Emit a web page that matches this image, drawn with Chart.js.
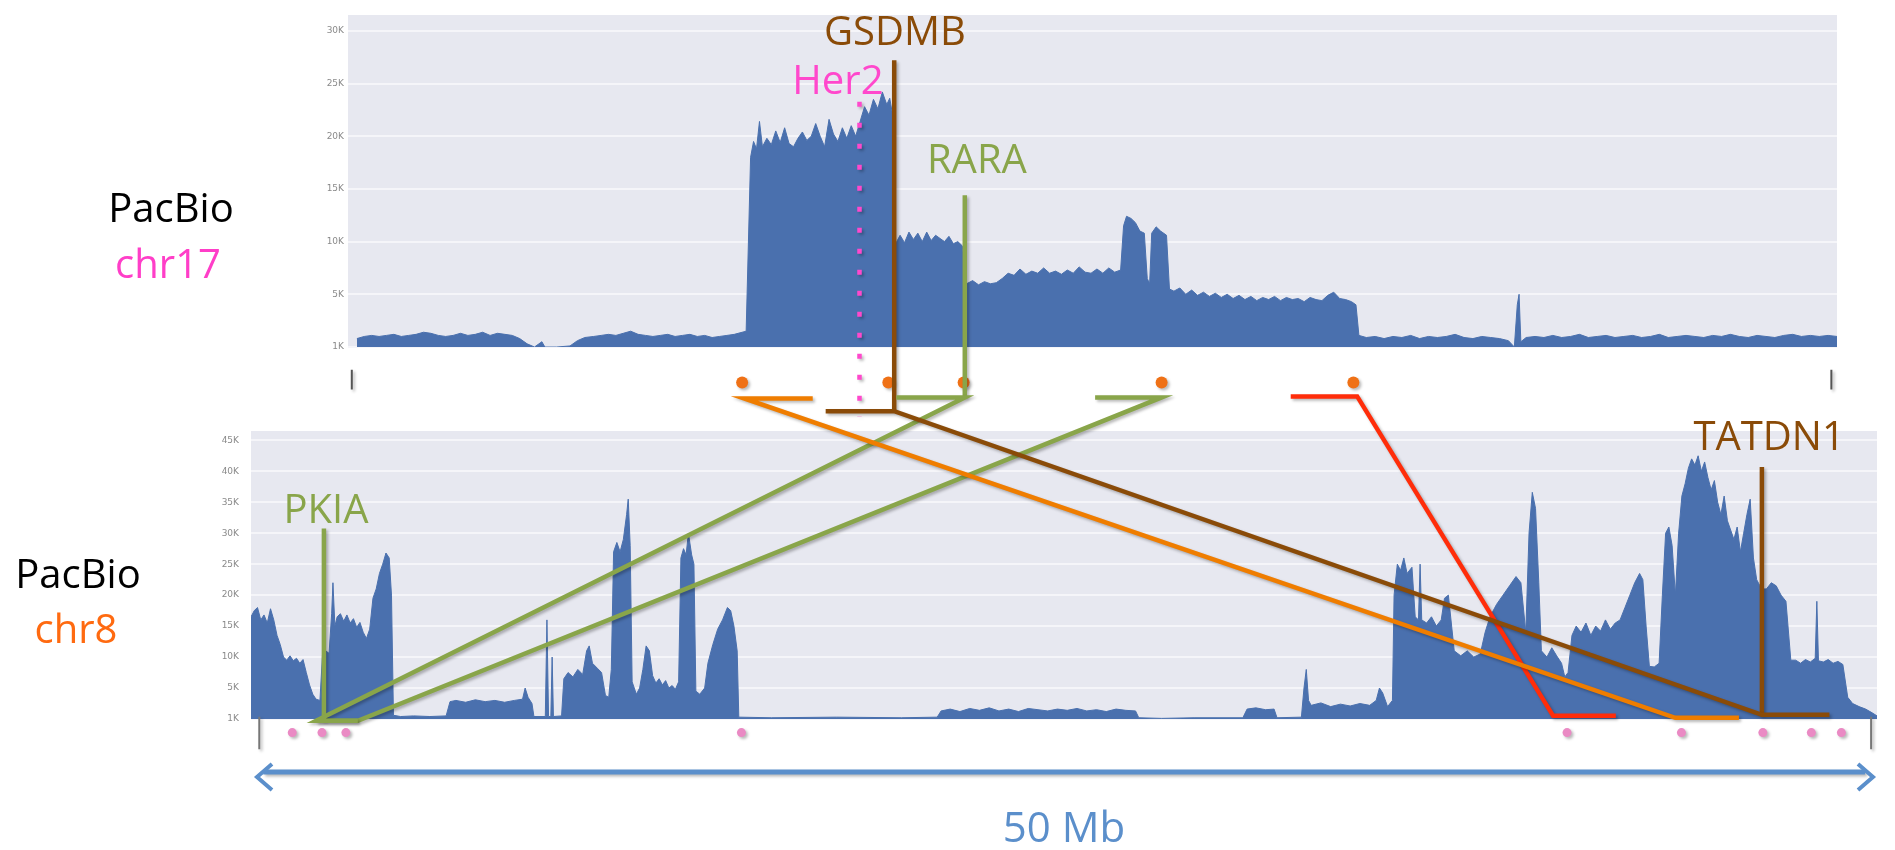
<!DOCTYPE html>
<html>
<head>
<meta charset="utf-8">
<script src="https://cdn.jsdelivr.net/npm/chart.js@4.4.1/dist/chart.umd.min.js"></script>
<style>
  html, body { margin: 0; padding: 0; background: #fff; }
  #wrap { position: relative; width: 1895px; height: 850px; }
  #wrap canvas { position: absolute; left: 0; top: 0; }
</style>
</head>
<body>
<div id="wrap">
  <canvas id="chr17Canv" width="1895" height="850"></canvas>
  <canvas id="chr8Canv" width="1895" height="850"></canvas>
  <canvas id="linkCanv" width="1895" height="850"></canvas>
</div>
<script>
// chr17 coverage (position in Mb of the 50 Mb window, coverage in K)
const chr17Mb = [
  0, 0.25, 0.5, 0.75, 1, 1.25, 1.5, 1.75, 2, 2.25, 2.5, 2.75, 3,
  3.25, 3.5, 3.75, 4, 4.25, 4.5, 4.75, 5, 5.25, 5.5, 5.75, 6, 6.25, 6.35, 6.75, 7.2, 7.45, 7.7,
  8, 8.25, 8.5, 8.75, 9, 9.25, 9.5, 9.75, 10, 10.25, 10.5, 10.75, 11, 11.25, 11.5, 11.75, 12, 12.25, 12.5, 12.75, 13.15,
  13.3, 13.4, 13.5, 13.6, 13.7, 13.85, 14, 14.15, 14.3, 14.45, 14.6, 14.75, 14.9, 15.05, 15.2, 15.35,
  15.5, 15.65, 15.8, 15.95, 16.1, 16.25, 16.4, 16.55, 16.7, 16.85, 17, 17.15, 17.3, 17.45, 17.6, 17.75, 17.9, 18, 18.1,
  18.2, 18.35, 18.5, 18.65, 18.8, 18.95, 19.1, 19.25, 19.4, 19.55, 19.7, 19.85, 20, 20.15, 20.3, 20.45,
  20.6, 20.8, 21, 21.2, 21.4, 21.6, 21.8, 22, 22.2, 22.4, 22.6, 22.8, 23, 23.2, 23.4, 23.6, 23.8, 24, 24.2, 24.4, 24.6, 24.8, 25, 25.2, 25.4, 25.6, 25.8,
  25.9, 26, 26.15, 26.3, 26.45, 26.6, 26.7, 26.78, 26.85, 27, 27.15, 27.35, 27.45,
  27.6, 27.8, 28, 28.2, 28.4, 28.6, 28.8, 29, 29.2, 29.4, 29.6, 29.8, 30, 30.2, 30.4, 30.6,
  30.8, 31, 31.2, 31.4, 31.6, 31.8, 32, 32.2, 32.4, 32.6, 32.8, 33, 33.2, 33.4, 33.6, 33.75,
  33.85, 34.1, 34.4, 34.7, 35, 35.3, 35.6, 35.9, 36.2, 36.5, 36.8, 37.1, 37.4, 37.7, 38, 38.3, 38.6, 38.9,
  39.1, 39.2, 39.26, 39.32, 39.5, 39.8, 40.1, 40.4, 40.7, 41, 41.3, 41.6, 41.9, 42.2, 42.5, 42.8,
  43.1, 43.4, 43.7, 44, 44.3, 44.6, 44.9, 45.2, 45.5, 45.8, 46.1, 46.4, 46.7, 47, 47.3, 47.6, 47.9, 48.2, 48.5, 48.8, 49.1, 49.4, 49.7, 50
];
const chr17Cov = [
  0.8, 1.0, 1.1, 1.0, 1.1, 1.2, 1.0, 1.1, 1.2, 1.4, 1.3, 1.1, 1.0,
  1.1, 1.3, 1.1, 1.2, 1.4, 1.1, 1.3, 1.2, 1.1, 0.8, 0.3, 0, 0.5, 0, 0, 0.1, 0.6, 0.9,
  1.0, 1.1, 1.2, 1.1, 1.3, 1.5, 1.2, 1.1, 1.0, 1.1, 1.2, 1.0, 1.1, 1.2, 1.0, 1.1, 0.9, 1.0, 1.1, 1.2, 1.5,
  18.0, 19.5, 18.8, 21.4, 19.0, 19.8, 19.2, 20.5, 19.4, 20.8, 19.3, 19.0, 19.8, 20.4, 19.6, 20.0,
  21.2, 20.0, 19.0, 21.6, 20.2, 19.5, 20.8, 19.8, 21.0, 20.0, 21.4, 22.8, 22.0, 23.5, 22.6, 24.2, 23.0, 23.6, 22.0,
  9.8, 10.6, 9.9, 10.9, 10.2, 10.8, 10.0, 10.9, 10.1, 10.6, 10.3, 10.0, 10.5, 9.8, 10.0, 9.6,
  6.0, 6.3, 5.9, 6.2, 6.0, 6.1, 6.5, 7.0, 6.8, 7.4, 6.9, 7.2, 7.0, 7.5, 7.0, 7.2, 6.9, 7.3, 7.0, 7.6, 7.1, 7.0, 7.4, 7.0, 7.5, 7.1, 7.3,
  11.5, 12.4, 12.2, 11.8, 11.0, 10.8, 6.5, 6.0, 10.8, 11.4, 11.0, 10.6, 5.5,
  5.3, 5.6, 5.0, 5.4, 4.9, 5.2, 4.8, 5.1, 4.7, 5.0, 4.6, 4.9, 4.5, 4.8, 4.4, 4.7,
  4.5, 4.8, 4.4, 4.7, 4.5, 4.6, 4.3, 4.7, 4.5, 4.4, 4.9, 5.2, 4.6, 4.5, 4.3, 4.0,
  1.1, 0.9, 1.0, 0.8, 1.0, 0.9, 1.1, 0.8, 1.0, 0.9, 1.0, 1.2, 0.9, 0.8, 1.0, 0.9, 0.8, 0.6,
  0, 4.0, 5.0, 0.5, 0.9, 1.0, 0.9, 1.1, 0.9, 1.0, 1.2, 0.9, 1.0, 1.1, 0.9, 1.0,
  1.1, 0.9, 1.0, 1.2, 0.9, 1.0, 1.1, 1.0, 0.9, 1.1, 1.0, 1.2, 1.0, 0.9, 1.1, 1.0, 0.9, 1.1, 1.2, 1.0, 1.1, 1.0, 1.1, 1.0
];

// chr8 coverage
const chr8Mb = [
  0, 0.1, 0.2, 0.3, 0.4, 0.5, 0.6, 0.7, 0.8, 0.9, 1, 1.1, 1.2, 1.3, 1.4, 1.5, 1.6, 1.7, 1.8, 1.9, 2, 2.12,
  2.2, 2.3, 2.4, 2.48, 2.52, 2.58, 2.65, 2.75, 2.85, 2.95, 3.05, 3.15, 3.25, 3.35, 3.45, 3.55, 3.65, 3.75, 3.85, 3.95, 4.05, 4.15, 4.25, 4.32, 4.38,
  4.6, 5, 5.5, 6, 6.12, 6.3, 6.6, 6.9, 7.2, 7.5, 7.8, 8.1, 8.35, 8.43, 8.52, 8.64, 8.7, 9.05, 9.1, 9.15, 9.22, 9.26, 9.3, 9.55,
  9.62, 9.75, 9.9, 10.05, 10.2, 10.32, 10.4, 10.5, 10.65, 10.78, 10.9, 11, 11.08, 11.15, 11.25, 11.35, 11.45, 11.55, 11.6, 11.66, 11.72,
  11.85, 11.95, 12.05, 12.15, 12.25, 12.35, 12.45, 12.55, 12.65, 12.75, 12.85, 12.95, 13.05, 13.15, 13.22, 13.3, 13.38, 13.45, 13.55, 13.62, 13.68,
  13.8, 13.95, 14.05, 14.2, 14.35, 14.5, 14.65, 14.75, 14.85, 14.95, 15, 16, 18, 20, 21.1,
  21.22, 21.5, 21.8, 22.1, 22.4, 22.7, 23, 23.3, 23.6, 23.9, 24.2, 24.5, 24.8, 25.1, 25.4, 25.7, 26, 26.3, 26.6, 26.9, 27.2, 27.3,
  28, 29, 30.5, 30.63, 30.9, 31.2, 31.46, 31.55, 32.3, 32.38, 32.45, 32.52, 32.6, 32.9, 33.2, 33.5, 33.8, 34.1, 34.4, 34.6, 34.7, 34.8, 34.95, 35.1,
  35.15, 35.25, 35.35, 35.45, 35.55, 35.7, 35.8, 35.9, 35.95, 36, 36.15, 36.3, 36.45, 36.6, 36.7, 36.82, 36.92, 37, 37.2, 37.4, 37.6, 37.8,
  37.95, 38.1, 38.3, 38.5, 38.7, 38.9, 39.05, 39.2, 39.3, 39.4, 39.5, 39.6, 39.68, 39.85, 40, 40.15, 40.3, 40.4, 40.5,
  40.62, 40.75, 40.9, 41.05, 41.2, 41.35, 41.5, 41.65, 41.8, 41.95, 42.1, 42.25, 42.4, 42.55, 42.7, 42.8, 42.9, 43, 43.15, 43.3,
  43.4, 43.5, 43.6, 43.7, 43.8, 43.9, 44, 44.1, 44.2, 44.3, 44.4, 44.5, 44.6, 44.7, 44.8, 44.9, 45, 45.1, 45.2, 45.3,
  45.4, 45.5, 45.6, 45.7, 45.8, 45.9, 46, 46.1, 46.2, 46.3, 46.45, 46.6, 46.75, 46.9, 47.05, 47.2, 47.35,
  47.5, 47.65, 47.8, 47.95, 48.1, 48.15, 48.2, 48.35, 48.5, 48.65, 48.8, 48.95, 49.1, 49.25, 49.45, 49.65, 49.85, 50
];
const chr8Cov = [
  16.5, 17.5, 18.0, 16.0, 16.8, 15.5, 17.8, 16.0, 13.5, 12.0, 10.0, 9.5, 10.2, 9.4, 9.8, 9.0, 9.6, 7.5, 5.5, 4.0, 3.2, 3.0,
  10.5, 11.0, 10.6, 17.0, 22.0, 15.0, 16.5, 17.0, 15.8, 16.8, 15.5, 16.2, 14.8, 15.6, 14.0, 13.0, 14.5, 19.5, 21.0, 23.5, 25.0, 26.8, 26.0, 20.0, 0.6,
  0.4, 0.5, 0.4, 0.5, 2.8, 3.0, 2.7, 3.1, 2.8, 3.0, 2.7, 3.0, 3.2, 5.0, 3.5, 2.5, 0.4, 0.4, 16.0, 0.4, 0.4, 10.0, 0.4, 0.5,
  6.5, 7.5, 6.8, 8.0, 7.2, 11.0, 11.8, 9.0, 8.2, 7.5, 3.8, 3.5, 8.0, 27.0, 28.5, 27.0, 29.0, 33.0, 35.5, 28.0, 6.0,
  4.0, 5.0, 8.0, 11.8, 11.0, 7.0, 5.8, 6.5, 5.5, 6.2, 5.0, 5.4, 4.8, 6.0, 26.0, 27.5, 26.5, 30.0, 26.5, 25.0, 4.5,
  4.0, 5.0, 9.0, 12.0, 14.5, 16.0, 18.0, 17.5, 15.0, 11.0, 0.3, 0.2, 0.3, 0.2, 0.3,
  1.3, 1.6, 1.2, 1.7, 1.4, 1.8, 1.3, 1.6, 1.2, 1.7, 1.5, 1.3, 1.6, 1.4, 1.7, 1.3, 1.5, 1.2, 1.6, 1.4, 1.3, 0.2,
  0.1, 0.2, 0.2, 1.6, 1.8, 1.5, 1.6, 0.2, 0.3, 5.0, 8.0, 3.0, 2.2, 2.6, 2.0, 2.4, 2.1, 2.5, 2.2, 3.0, 5.0, 4.2, 2.0, 3.0,
  20.0, 25.0, 24.0, 26.0, 23.5, 24.5, 16.5, 16.0, 25.0, 16.0, 15.5, 16.5, 15.0, 16.0, 19.5, 20.0, 15.0, 11.0, 10.2, 11.0, 10.0, 10.5,
  14.0, 16.5, 18.5, 20.0, 21.5, 23.0, 22.0, 14.0, 30.0, 36.6, 34.0, 22.0, 11.0, 10.0, 11.5, 10.2, 9.0, 6.8, 7.5,
  13.5, 15.0, 14.0, 15.5, 13.5, 15.0, 14.2, 16.0, 14.5, 15.5, 16.0, 18.0, 20.0, 22.0, 23.5, 22.5, 15.0, 8.5, 8.4, 9.0,
  20.0, 30.0, 31.0, 28.0, 20.0, 30.0, 36.0, 38.0, 40.5, 42.0, 41.0, 42.5, 40.0, 41.5, 39.0, 37.0, 38.5, 35.0, 33.0, 36.0,
  32.0, 30.5, 29.0, 31.0, 27.0, 30.0, 33.0, 35.5, 26.0, 22.5, 21.0, 21.0, 22.0, 21.5, 20.0, 19.0, 9.5,
  9.5, 9.0, 9.6, 9.2, 9.8, 19.0, 9.4, 9.2, 9.6, 9.0, 9.3, 8.8, 3.5, 2.5, 2.0, 1.6, 1.0, 0.5
];

const chr17Ticks = [0, 5, 10, 15, 20, 25, 30];
const chr8Ticks = [0, 5, 10, 15, 20, 25, 30, 35, 40, 45];

// breakpoints (orange dots under chr17, pink dots under chr8)
const break17 = [12.97, 17.94, 20.5, 27.23, 33.75];
const break8 = [1.14, 2.06, 2.8, 15.04, 40.59, 44.13, 46.65, 48.15, 49.08];

// links: chr17 segment [free end, joined end] -> chr8 segment [joined end, free end]
const link17 = [[15.37, 13.04], [15.81, 18.14], [18.21, 20.54], [24.97, 27.23], [31.62, 33.88]];
const link8 = [[43.94, 45.91], [46.62, 48.71], [1.88, 3.17], [3.17, 1.88], [40.16, 42.1]];

// genes: name, position (Mb), top of marker (coverage K)
const gene17Names = ['Her2', 'GSDMB', 'RARA'];
const gene17Mb = [16.96, 18.14, 20.54];
const gene17Top = [23.7, 27.7, 14.7];
const gene8Names = ['PKIA', 'TATDN1'];
const gene8Mb = [2.12, 46.62];
const gene8Top = [30.5, 40.6];

// styles
const blue = '#4a70ae';
const linkColors = ['#ef7d00', '#8a4b08', '#89a54a', '#89a54a', '#ff2d0a'];
const linkRow17 = [51, 64, 50, 50, 49];
const linkRow8 = [3, 0, 6, 6, 1];
const gene17Colors = ['#ff48cc', '#8a4b08', '#89a54a'];
const gene17End = [70, 64, 50];
const gene17Dx = [-21, 1, 12];
const gene17Dy = [3, 10, 19];
const gene8Colors = ['#89a54a', '#8a4b08'];
const gene8End = [6, 0];
const gene8Dx = [6, 2];
const gene8Dy = [7, 18];
const labelFont = '40px "Open Sans"';

const plotBg = {
  id: 'plotBg',
  beforeDraw(chart, args, opts) {
    const a = chart.chartArea;
    const ctx = chart.ctx;
    ctx.save();
    ctx.fillStyle = opts.color;
    ctx.fillRect(a.left, a.top, a.right - a.left, a.bottom - a.top);
    ctx.restore();
  }
};

function coverageChart(canv, xs, ys, xMin, yMax, yTicks, pad, axisW, labelPad) {
  return new Chart(canv, {
    type: 'line',
    data: {
      datasets: [{
        data: xs.map((x, i) => ({x: x, y: ys[i]})),
        borderColor: blue,
        backgroundColor: blue,
        borderWidth: 1,
        fill: 'origin',
        pointRadius: 0,
        tension: 0
      }]
    },
    options: {
      responsive: false,
      animation: false,
      events: [],
      layout: { padding: pad },
      plugins: {
        legend: { display: false },
        tooltip: { enabled: false },
        plotBg: { color: '#e7e8f0' }
      },
      scales: {
        x: { type: 'linear', min: xMin, max: 50, display: false },
        y: {
          type: 'linear',
          min: 0,
          max: yMax,
          afterBuildTicks: s => { s.ticks = yTicks.map(v => ({value: v})); },
          afterFit: s => { s.width = axisW; },
          border: { display: false },
          grid: { color: '#f5f5f9', lineWidth: 2, drawTicks: false },
          ticks: {
            color: '#8a8a8a',
            padding: labelPad,
            font: { size: 9, family: 'DejaVu Sans' },
            callback: v => (v === 0 ? 1 : v) + 'K'
          }
        }
      }
    },
    plugins: [plotBg]
  });
}

const topChart = coverageChart(document.getElementById('chr17Canv'), chr17Mb, chr17Cov,
  -0.3, 31.5, chr17Ticks, {left: 308, right: 58, top: 15, bottom: 503}, 40, 4);
const botChart = coverageChart(document.getElementById('chr8Canv'), chr8Mb, chr8Cov,
  0, 46.5, chr8Ticks, {left: 201, right: 18, top: 431, bottom: 131}, 50, 12);

const tx = v => topChart.scales.x.getPixelForValue(v);
const ty = v => topChart.scales.y.getPixelForValue(v);
const bx = v => botChart.scales.x.getPixelForValue(v);
const by = v => botChart.scales.y.getPixelForValue(v);
const topBase = topChart.chartArea.bottom;
const botBase = botChart.chartArea.bottom;
const barY = botBase + 58;

let sets = [];

link17.forEach((seg, i) => {
  sets.push({
    data: [
      {x: tx(seg[0]), y: topBase + linkRow17[i]},
      {x: tx(seg[1]), y: topBase + linkRow17[i]},
      {x: bx(link8[i][0]), y: botBase + linkRow8[i]},
      {x: bx(link8[i][1]), y: botBase + linkRow8[i]}
    ],
    borderColor: linkColors[i],
    borderWidth: 4.5
  });
});

gene17Mb.forEach((m, i) => {
  sets.push({
    data: [{x: tx(m), y: ty(gene17Top[i])}, {x: tx(m), y: topBase + gene17End[i]}],
    borderColor: gene17Colors[i],
    borderWidth: 4.5,
    borderDash: i === 0 ? [5, 16] : []
  });
});

gene8Mb.forEach((m, i) => {
  sets.push({
    data: [{x: bx(m), y: by(gene8Top[i])}, {x: bx(m), y: botBase + gene8End[i]}],
    borderColor: gene8Colors[i],
    borderWidth: 4.5
  });
});

sets.push({
  data: break17.map(m => ({x: tx(m), y: topBase + 35})),
  showLine: false, pointRadius: 6, pointBackgroundColor: '#ef7116', pointBorderWidth: 0
});
sets.push({
  data: break8.map(m => ({x: bx(m), y: botBase + 18})),
  showLine: false, pointRadius: 4.5, pointBackgroundColor: '#ea8ac4', pointBorderWidth: 0
});

// axis end ticks
[-0.3, 50].forEach(m => {
  sets.push({ data: [{x: tx(m), y: topBase + 22}, {x: tx(m), y: topBase + 42}], borderColor: '#555', borderWidth: 2 });
});
[0.12, 50].forEach(m => {
  sets.push({ data: [{x: bx(m), y: botBase + 2}, {x: bx(m), y: botBase + 35}], borderColor: '#777', borderWidth: 2 });
});

// 50 Mb scale bar
sets.push({
  data: [{x: bx(0) + 8, y: barY}, {x: bx(50) - 6, y: barY}],
  borderColor: '#5b8fcb',
  borderWidth: 5
});

// soft drop shadow under the drawn links, like the slide
const shade = {
  id: 'shade',
  beforeDatasetsDraw(chart) {
    const ctx = chart.ctx;
    ctx.save();
    ctx.shadowColor = 'rgba(0, 0, 0, 0.28)';
    ctx.shadowBlur = 3;
    ctx.shadowOffsetX = 2;
    ctx.shadowOffsetY = 2;
  },
  afterDatasetsDraw(chart) {
    chart.ctx.restore();
  }
};

const figText = {
  id: 'figText',
  afterDatasetsDraw(chart) {
    const ctx = chart.ctx;
    ctx.save();
    ctx.font = labelFont;
    ctx.textAlign = 'center';
    ctx.textBaseline = 'alphabetic';
    gene17Names.forEach((g, i) => {
      ctx.fillStyle = gene17Colors[i];
      ctx.fillText(g, tx(gene17Mb[i]) + gene17Dx[i], ty(gene17Top[i]) - gene17Dy[i]);
    });
    gene8Names.forEach((g, i) => {
      ctx.fillStyle = gene8Colors[i];
      ctx.fillText(g, bx(gene8Mb[i]) + gene8Dx[i], by(gene8Top[i]) - gene8Dy[i]);
    });

    ctx.fillStyle = '#000';
    ctx.fillText('PacBio', 171, 222);
    ctx.fillText('PacBio', 78, 588);
    ctx.fillStyle = '#ff3ec8';
    ctx.fillText('chr17', 168, 278);
    ctx.fillStyle = '#ff6a10';
    ctx.fillText('chr8', 76, 643);

    // arrow heads on the scale bar
    const x0 = bx(0) + 6;
    const x1 = bx(50) - 4;
    ctx.strokeStyle = '#5b8fcb';
    ctx.lineWidth = 4;
    ctx.beginPath();
    ctx.moveTo(x0 + 15, barY - 13); ctx.lineTo(x0, barY); ctx.lineTo(x0 + 15, barY + 13);
    ctx.moveTo(x1 - 15, barY - 13); ctx.lineTo(x1, barY); ctx.lineTo(x1 - 15, barY + 13);
    ctx.stroke();
    ctx.fillStyle = '#5b8fcb';
    ctx.font = '42px "Open Sans"';
    ctx.fillText('50 Mb', (bx(0) + bx(50)) / 2, 842);
    ctx.restore();
  }
};

const linkChart = new Chart(document.getElementById('linkCanv'), {
  type: 'line',
  data: { datasets: sets },
  options: {
    responsive: false,
    animation: false,
    events: [],
    elements: { point: { radius: 0 }, line: { tension: 0 } },
    plugins: { legend: { display: false }, tooltip: { enabled: false } },
    scales: {
      x: { type: 'linear', min: 0, max: 1895, display: false },
      y: { type: 'linear', min: 0, max: 850, reverse: true, display: false }
    }
  },
  plugins: [shade, figText]
});
</script>
</body>
</html>
